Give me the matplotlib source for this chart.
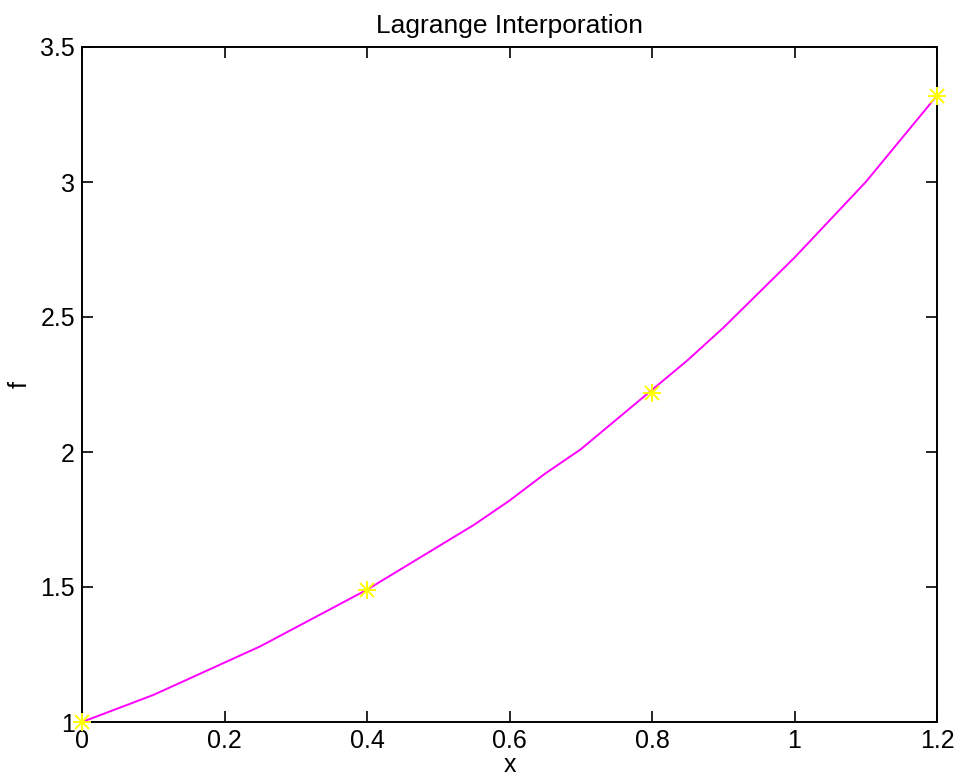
import matplotlib.pyplot as plt

# interpolating curve
x_curve = [0.0, 0.05, 0.1, 0.15, 0.2, 0.25, 0.3, 0.35, 0.4, 0.45, 0.5, 0.55,
           0.6, 0.65, 0.7, 0.75, 0.8, 0.85, 0.9, 0.95, 1.0, 1.05, 1.1, 1.15, 1.2]
f_curve = [1.00, 1.05, 1.10, 1.16, 1.22, 1.28, 1.35, 1.42, 1.49, 1.57, 1.65, 1.73,
           1.82, 1.92, 2.01, 2.12, 2.23, 2.34, 2.46, 2.59, 2.72, 2.86, 3.00, 3.16, 3.32]

# nodes
x_nodes = [0.0, 0.4, 0.8, 1.2]
f_nodes = [1.00, 1.49, 2.22, 3.32]

x_ticks = [0, 0.2, 0.4, 0.6, 0.8, 1, 1.2]
x_ticklabels = ["0", "0.2", "0.4", "0.6", "0.8", "1", "1.2"]
y_ticks = [1, 1.5, 2, 2.5, 3, 3.5]
y_ticklabels = ["1", "1.5", "2", "2.5", "3", "3.5"]

plt.rcParams["font.family"] = ["Liberation Sans", "DejaVu Sans"]

fig = plt.figure(figsize=(9.63, 7.78), dpi=100)
ax = fig.add_axes([82 / 963, 1 - 722 / 778, (937 - 82) / 963, (722 - 47) / 778])

ax.plot(x_curve, f_curve, color="#ff00ff", linewidth=1.4, zorder=2)
# MATLAB-style asterisk marker = plus + cross
ax.plot(x_nodes, f_nodes, linestyle="none", marker="+", markersize=13,
        markeredgewidth=1.4, color="#ffff00", zorder=3, clip_on=False)
ax.plot(x_nodes, f_nodes, linestyle="none", marker="x", markersize=10,
        markeredgewidth=1.4, color="#ffff00", zorder=3, clip_on=False)

ax.set_xlim(0, 1.2)
ax.set_ylim(1, 3.5)
ax.set_xticks(x_ticks)
ax.set_xticklabels(x_ticklabels)
ax.set_yticks(y_ticks)
ax.set_yticklabels(y_ticklabels)
ax.tick_params(direction="in", length=8, width=1.2, labelsize=18,
               top=True, right=True, pad=5)
for spine in ax.spines.values():
    spine.set_linewidth(1.4)

ax.set_title("Lagrange Interporation", fontsize=19, pad=10)
ax.set_xlabel("x", fontsize=18, labelpad=0)
ax.set_ylabel("f", fontsize=18, labelpad=6)

fig.savefig("out.png", dpi=100)
